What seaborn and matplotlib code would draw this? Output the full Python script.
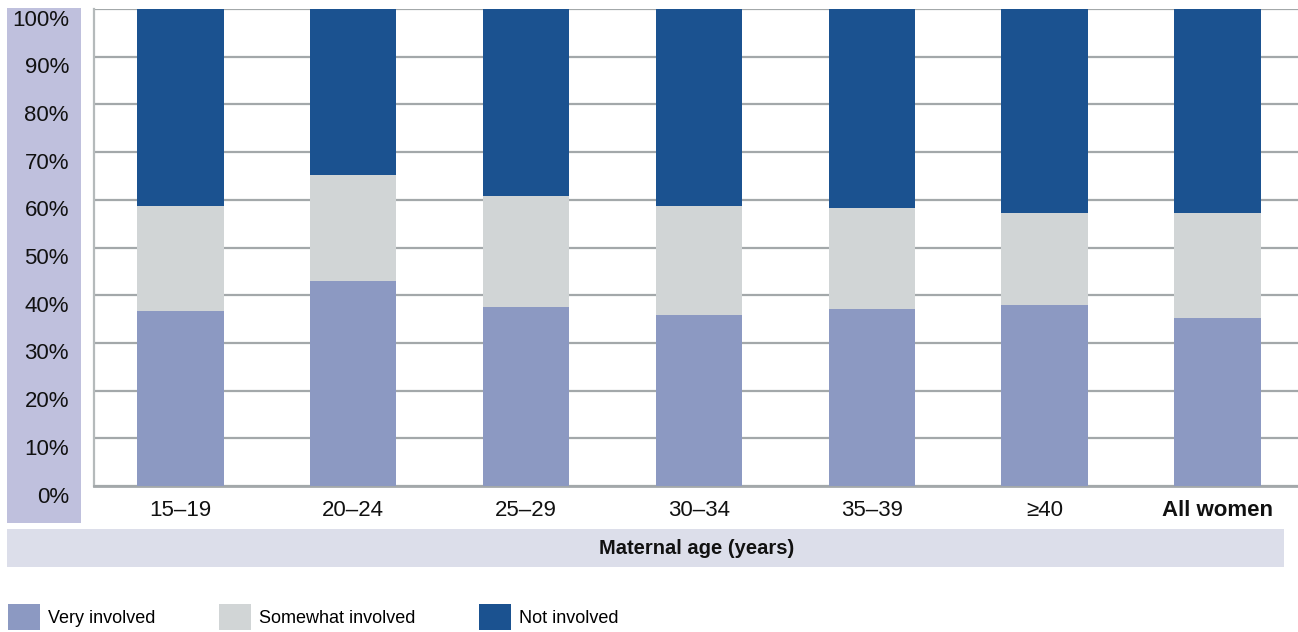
import seaborn as sns
import matplotlib.pyplot as plt
import pandas as pd
from matplotlib.patches import Rectangle, Patch
from matplotlib.transforms import ScaledTranslation

# values (percent of women)
age_groups = ["15–19", "20–24", "25–29", "30–34", "35–39", "≥40", "All women"]
very_involved = [36.7, 43.0, 37.5, 35.8, 37.1, 37.9, 35.2]
somewhat_involved = [22.0, 22.2, 23.3, 22.9, 21.2, 19.4, 22.1]
not_involved = [41.3, 34.8, 39.2, 41.3, 41.7, 42.7, 42.7]

col_very = "#8c99c2"
col_some = "#d1d5d6"
col_not = "#1b5290"

df = pd.DataFrame({"age": age_groups, "very": very_involved,
                   "some": somewhat_involved, "not": not_involved})
df["top_some"] = df["very"] + df["some"]
df["top_not"] = df["top_some"] + df["not"]

plt.rcParams["font.family"] = ["Liberation Sans", "DejaVu Sans"]

fig = plt.figure(figsize=(12.98, 6.32), dpi=100)

# background bands
fig.patches.append(Rectangle((0.0054, 0.1725), 0.057, 0.8145, transform=fig.transFigure,
                             facecolor="#bfc0dd", edgecolor="none", zorder=-5))
fig.patches.append(Rectangle((0.0054, 0.1029), 0.9836, 0.0601, transform=fig.transFigure,
                             facecolor="#dcdeea", edgecolor="none", zorder=-5))

ax = fig.add_axes([0.0724, 0.231, 0.9322, 0.7547])
ax.set_facecolor("none")

# stacked bars: draw the tallest layer first
sns.barplot(data=df, x="age", y="top_not", color=col_not, width=0.5, saturation=1, ax=ax, zorder=3)
sns.barplot(data=df, x="age", y="top_some", color=col_some, width=0.5, saturation=1, ax=ax, zorder=3)
sns.barplot(data=df, x="age", y="very", color=col_very, width=0.5, saturation=1, ax=ax, zorder=3)
for p in ax.patches:
    p.set_edgecolor("none")
    p.set_linewidth(0)

ax.set_ylim(0, 100)
ax.set_xlim(-0.5, 6.5)
ax.set_yticks(range(0, 101, 10))
ax.set_yticklabels([f"{v}%" for v in range(0, 101, 10)])
ax.yaxis.grid(True, color="#a3a8aa", linewidth=1.6, zorder=0)
ax.set_axisbelow(True)
for s in ["top", "right"]:
    ax.spines[s].set_visible(False)
ax.spines["left"].set_color("#b5babb")
ax.spines["left"].set_linewidth(1.6)
ax.spines["bottom"].set_color("#a3a8aa")
ax.spines["bottom"].set_linewidth(2)
ax.tick_params(axis="both", length=0, labelsize=16, colors="#111111")
ax.tick_params(axis="y", pad=18)
ax.tick_params(axis="x", pad=10)
ax.get_xticklabels()[-1].set_fontweight("bold")
# y labels sit a little below their gridlines in the original
shift = ScaledTranslation(0, -0.085, fig.dpi_scale_trans)
for lab in ax.get_yticklabels():
    lab.set_transform(lab.get_transform() + shift)
ax.set_xlabel("")
ax.set_ylabel("")

fig.text(0.537, 0.132, "Maternal age (years)", ha="center", va="center",
         fontsize=14.5, fontweight="bold", color="#111111")

handles = [Patch(facecolor=col_very, label="Very involved"),
           Patch(facecolor=col_some, label="Somewhat involved"),
           Patch(facecolor=col_not, label="Not involved")]
fig.legend(handles=handles, loc="lower left", bbox_to_anchor=(0.002, -0.006), ncol=3,
           frameon=False, fontsize=13, handlelength=1.75, handleheight=1.85,
           handletextpad=0.45, columnspacing=3.55, borderaxespad=0, borderpad=0.3)

plt.savefig("out.png", dpi=100)
